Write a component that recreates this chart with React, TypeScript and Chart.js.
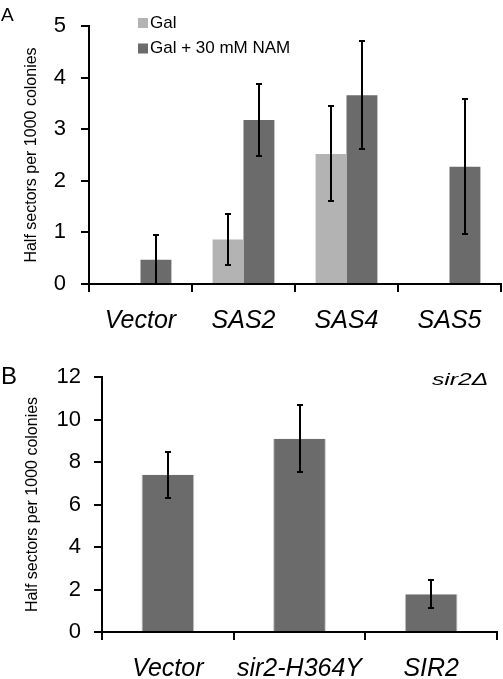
import React, { useEffect, useRef } from "react";
import { Chart, registerables } from "chart.js";

Chart.register(...registerables);

const FONT = "'Liberation Sans', Arial, sans-serif";

// ---- Panel A data ----
const categoriesA = ["Vector", "SAS2", "SAS4", "SAS5"];
const seriesLabelsA = ["Gal", "Gal + 30 mM NAM"];
const galValues = [0, 0.86, 2.52, 0];
const galErrors = [0, 0.5, 0.92, 0];
const namValues = [0.47, 3.18, 3.66, 2.27];
const namErrors = [0.47, 0.69, 1.04, 1.31];
const yRangeA = [0, 5];
const yStepA = 1;

// ---- Panel B data ----
const categoriesB = ["Vector", "sir2-H364Y", "SIR2"];
const valuesB = [7.4, 9.1, 1.78];
const errorsB = [1.08, 1.57, 0.67];
const yRangeB = [0, 12];
const yStepB = 2;

const yTitle = "Half sectors per 1000 colonies";

const errorBarPlugin = {
  id: "errorBars",
  afterDatasetsDraw(chart: any) {
    const ctx = chart.ctx;
    const y = chart.scales.y;
    chart.data.datasets.forEach((ds: any, i: number) => {
      const errs = ds.errors;
      if (!errs) return;
      const meta = chart.getDatasetMeta(i);
      meta.data.forEach((el: any, j: number) => {
        const v = ds.data[j];
        const e = errs[j];
        if (!e) return;
        const top = Math.round(y.getPixelForValue(v + e));
        const bot = Math.round(y.getPixelForValue(Math.max(v - e, 0)));
        const x = Math.round(el.x);
        ctx.save();
        ctx.strokeStyle = "#000";
        ctx.lineWidth = 2;
        ctx.beginPath();
        ctx.moveTo(x, top);
        ctx.lineTo(x, bot);
        ctx.moveTo(x - 3, top);
        ctx.lineTo(x + 3, top);
        ctx.moveTo(x - 3, bot);
        ctx.lineTo(x + 3, bot);
        ctx.stroke();
        ctx.restore();
      });
    });
  },
};

const insideLegendPlugin = {
  id: "insideLegend",
  afterDraw(chart: any, _args: any, opts: any) {
    if (!opts || !opts.display) return;
    const ctx = chart.ctx;
    ctx.save();
    chart.data.datasets.forEach((ds: any, i: number) => {
      const cy = opts.y + i * opts.spacing;
      ctx.fillStyle = ds.backgroundColor;
      ctx.fillRect(opts.x, cy - opts.box / 2, opts.box, opts.box);
      ctx.fillStyle = "#000";
      ctx.font = `${opts.size}px ${FONT}`;
      ctx.textBaseline = "middle";
      ctx.textAlign = "left";
      ctx.fillText(ds.label, opts.x + opts.box + opts.gap, cy);
    });
    ctx.restore();
  },
};

function makeOptions(p: {
  min: number;
  max: number;
  step: number;
  yWidth: number;
  xHeight: number;
  titlePad: number;
  tickPad: number;
  padding: any;
  legend: any;
}) {
  return {
    responsive: false,
    animation: false,
    layout: { padding: p.padding },
    plugins: {
      legend: { display: false },
      tooltip: { enabled: false },
      insideLegend: p.legend,
    },
    scales: {
      x: {
        type: "category",
        offset: true,
        grid: {
          display: true,
          drawOnChartArea: false,
          drawTicks: true,
          tickLength: 8,
          color: "#000",
          lineWidth: 2,
          offset: true,
        },
        border: { display: true, color: "#000", width: 2 },
        ticks: {
          color: "#000",
          padding: 14,
          maxRotation: 0,
          autoSkip: false,
          font: { family: FONT, size: 25, style: "italic", lineHeight: 1.2 },
        },
        afterFit: (s: any) => {
          s.height = p.xHeight;
        },
      },
      y: {
        min: p.min,
        max: p.max,
        grid: {
          display: true,
          drawOnChartArea: false,
          drawTicks: true,
          tickLength: 8,
          color: "#000",
          lineWidth: 2,
        },
        border: { display: true, color: "#000", width: 2 },
        ticks: {
          stepSize: p.step,
          color: "#000",
          padding: p.tickPad,
          font: { family: FONT, size: 22, lineHeight: 1 },
        },
        title: {
          display: true,
          text: yTitle,
          color: "#000",
          font: { family: FONT, size: 16, lineHeight: 1.2 },
          padding: { top: p.titlePad, bottom: 0 },
        },
        afterFit: (s: any) => {
          s.width = p.yWidth;
        },
      },
    },
  };
}

function PanelA() {
  const ref = useRef<HTMLCanvasElement | null>(null);
  useEffect(() => {
    if (!ref.current) return;
    const chart = new Chart(ref.current, {
      type: "bar",
      data: {
        labels: categoriesA,
        datasets: [
          {
            label: seriesLabelsA[0],
            data: galValues,
            errors: galErrors,
            backgroundColor: "#b3b3b3",
            categoryPercentage: 0.6,
            barPercentage: 1.0,
          } as any,
          {
            label: seriesLabelsA[1],
            data: namValues,
            errors: namErrors,
            backgroundColor: "#6b6b6b",
            categoryPercentage: 0.6,
            barPercentage: 1.0,
          } as any,
        ],
      },
      options: makeOptions({
        min: yRangeA[0],
        max: yRangeA[1],
        step: yStepA,
        yWidth: 89,
        xHeight: 56,
        titlePad: 22,
        tickPad: 15,
        padding: { top: 11, right: 2, bottom: 0, left: 0 },
        legend: { display: true, x: 138, y: 23, spacing: 25.5, box: 10, gap: 2, size: 17 },
      }) as any,
      plugins: [errorBarPlugin, insideLegendPlugin],
    });
    return () => chart.destroy();
  }, []);
  return (
    <canvas
      ref={ref}
      width={503}
      height={340}
      style={{ position: "absolute", left: 0, top: 0, display: "block" }}
    />
  );
}

function PanelB() {
  const ref = useRef<HTMLCanvasElement | null>(null);
  useEffect(() => {
    if (!ref.current) return;
    const chart = new Chart(ref.current, {
      type: "bar",
      data: {
        labels: categoriesB,
        datasets: [
          {
            label: "sir2Δ",
            data: valuesB,
            errors: errorsB,
            backgroundColor: "#6b6b6b",
            borderColor: "#c2c2c2",
            borderWidth: { left: 1, right: 1, top: 0, bottom: 0 },
            borderSkipped: false,
            categoryPercentage: 0.4,
            barPercentage: 1.0,
          } as any,
        ],
      },
      options: makeOptions({
        min: yRangeB[0],
        max: yRangeB[1],
        step: yStepB,
        yWidth: 102,
        xHeight: 47,
        titlePad: 23,
        tickPad: 13,
        padding: { top: 37, right: 6, bottom: 0, left: 0 },
        legend: { display: false },
      }) as any,
      plugins: [errorBarPlugin, insideLegendPlugin],
    });
    return () => chart.destroy();
  }, []);
  return (
    <canvas
      ref={ref}
      width={503}
      height={339}
      style={{ position: "absolute", left: 0, top: 340, display: "block" }}
    />
  );
}

export default function App() {
  return (
    <div
      style={{
        position: "absolute",
        left: 0,
        top: 0,
        width: 503,
        height: 679,
        background: "#fff",
        overflow: "hidden",
        fontFamily: FONT,
        color: "#000",
      }}
    >
      <PanelA />
      <PanelB />
      <div style={{ position: "absolute", left: 1, top: 4.5, fontSize: 19, lineHeight: "19px" }}>A</div>
      <div style={{ position: "absolute", left: 1, top: 363.5, fontSize: 24, lineHeight: "24px" }}>B</div>
      <div
        style={{
          position: "absolute",
          left: 432,
          top: 370.5,
          fontSize: 17,
          lineHeight: "17px",
          fontStyle: "italic",
          transform: "scaleX(1.45)",
          transformOrigin: "left center",
          whiteSpace: "nowrap",
        }}
      >
        sir2Δ
      </div>
    </div>
  );
}
